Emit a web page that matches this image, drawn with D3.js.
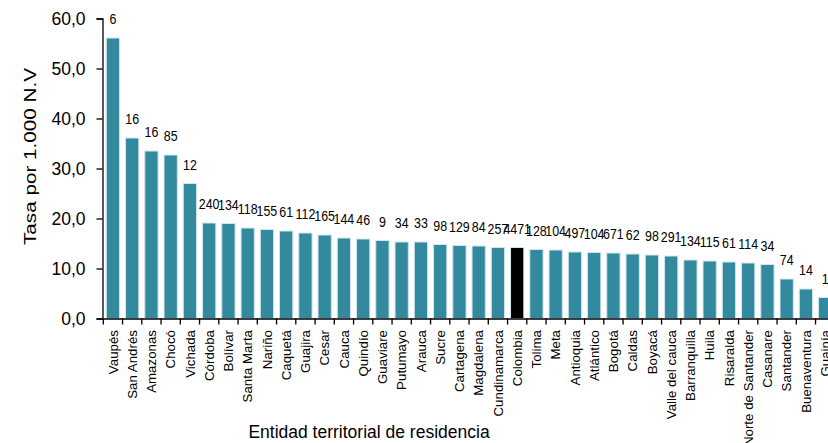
<!DOCTYPE html>
<html>
<head>
<meta charset="utf-8">
<script src="https://cdn.jsdelivr.net/npm/d3@7"></script>
<style>
  html, body { margin: 0; padding: 0; background: #fff; overflow: hidden; }
  svg { display: block; }
  text { fill: #000; }
</style>
</head>
<body>
<svg id="chart" width="828" height="443"></svg>
<script>
const categories = ["Vaupés","San Andrés","Amazonas","Chocó","Vichada","Córdoba","Bolívar","Santa Marta","Nariño","Caquetá","Guajira","Cesar","Cauca","Quindío","Guaviare","Putumayo","Arauca","Sucre","Cartagena","Magdalena","Cundinamarca","Colombia","Tolima","Meta","Antioquia","Atlántico","Bogotá","Caldas","Boyacá","Valle del cauca","Barranquilla","Huila","Risaralda","Norte de Santander","Casanare","Santander","Buenaventura","Guainía"];
const rates = [56.1,36.1,33.5,32.7,27.0,19.1,19.0,18.1,17.8,17.5,17.1,16.7,16.1,15.9,15.6,15.3,15.3,14.8,14.6,14.5,14.2,14.2,13.8,13.7,13.3,13.2,13.1,12.9,12.7,12.5,11.7,11.5,11.3,11.1,10.8,7.9,5.9,4.2];
const counts = ["6","16","16","85","12","240","134","118","155","61","112","165","144","46","9","34","33","98","129","84","257","4471","128","104","497","104","671","62","98","291","134","115","61","114","34","74","14","1"];
const highlight = ["Colombia"];
const yTicks = [0,10,20,30,40,50,60];
const yTitle = "Tasa por 1.000 N.V";
const xTitle = "Entidad territorial de residencia";

const svg = d3.select("#chart");
const x0 = 103.3, step = 19.25, yBase = 318.5, yTop = 18.5;
const x = d3.scaleBand().domain(categories)
  .range([x0, x0 + step * categories.length])
  .paddingInner(0.31).paddingOuter(0.155);
const y = d3.scaleLinear().domain([0, 60]).range([yBase, yTop]);
const fmt = v => d3.format(".1f")(v).replace(".", ",");
const FONT = "'Liberation Sans', Arial, sans-serif";

// bars
svg.append("g").selectAll("rect").data(categories).join("rect")
  .attr("x", d => x(d))
  .attr("width", x.bandwidth())
  .attr("y", (d, i) => y(rates[i]))
  .attr("height", (d, i) => y(0) - y(rates[i]))
  .attr("fill", d => highlight.includes(d) ? "#000000" : "#33899e")
  .attr("stroke", "#cfe7ee")
  .attr("stroke-width", 1);

// bar labels (condensed)
svg.append("g").selectAll("text").data(categories).join("text")
  .attr("transform", (d, i) => `translate(${x(d) + x.bandwidth() / 2},${y(rates[i]) - 14}) scale(0.8,1)`)
  .attr("text-anchor", "middle")
  .style("font-family", FONT)
  .style("font-size", "15.5px")
  .text((d, i) => counts[i]);

// y axis
const yAxis = d3.axisLeft(y).tickValues(yTicks).tickSize(6).tickPadding(11).tickFormat(fmt);
const gy = svg.append("g").attr("transform", "translate(102.5,0)").call(yAxis);
gy.select(".domain").attr("stroke", "#000").attr("stroke-width", 1.3);
gy.selectAll(".tick line").attr("stroke", "#000").attr("stroke-width", 1.3);
gy.selectAll(".tick text")
  .style("font-family", FONT)
  .style("font-size", "17.5px");

// x axis
const xAxis = d3.axisBottom(x).tickSize(0).tickPadding(0);
const gx = svg.append("g").attr("transform", `translate(0,${yBase})`).call(xAxis);
gx.select(".domain").attr("stroke", "#000").attr("stroke-width", 1.3);
gx.selectAll(".tick text")
  .attr("transform", "rotate(-90)")
  .attr("x", -11.5)
  .attr("y", 0)
  .attr("dy", "0.35em")
  .attr("text-anchor", "end")
  .style("font-family", FONT)
  .style("font-size", "13.3px");
// boundary ticks
const bounds = d3.range(categories.length + 1).map(i => x.range()[0] + i * x.step());
gx.append("g").selectAll("line").data(bounds).join("line")
  .attr("x1", d => d).attr("x2", d => d)
  .attr("y1", 0).attr("y2", 6)
  .attr("stroke", "#000").attr("stroke-width", 1.3);

// titles
svg.append("text")
  .attr("transform", "translate(35.5,156.5) rotate(-90)")
  .attr("text-anchor", "middle")
  .attr("textLength", 177)
  .attr("lengthAdjust", "spacingAndGlyphs")
  .style("font-family", FONT)
  .style("font-size", "17px")
  .text(yTitle);
svg.append("text")
  .attr("x", 369).attr("y", 438)
  .attr("text-anchor", "middle")
  .style("font-family", FONT)
  .style("font-size", "17.5px")
  .text(xTitle);
</script>
</body>
</html>
